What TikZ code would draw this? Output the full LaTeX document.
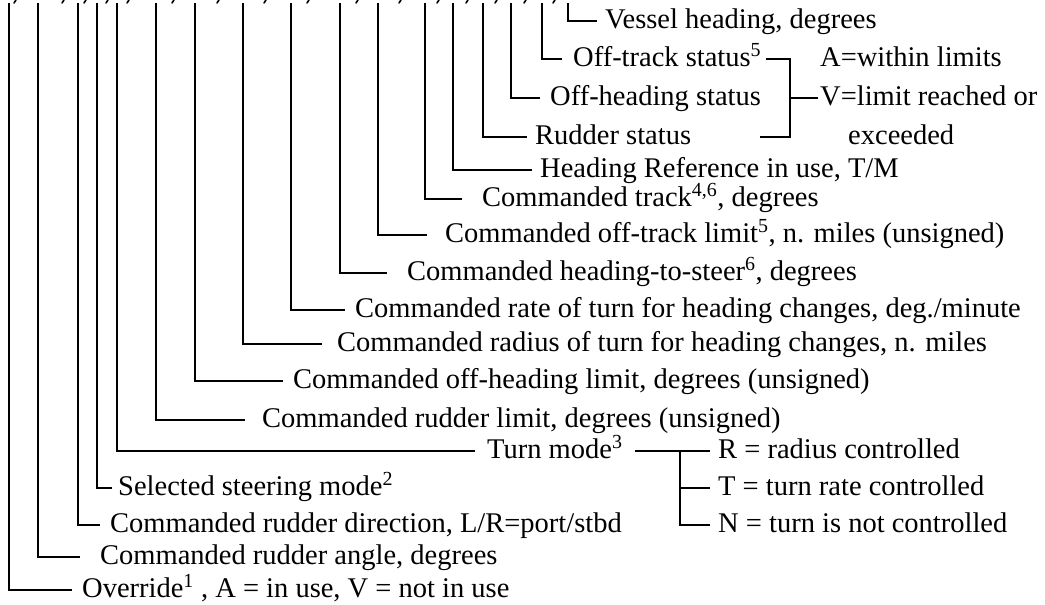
\documentclass[tikz,border=0pt]{standalone}
\usepackage{fontspec}
\setmainfont{Liberation Serif}
\begin{document}
\begin{tikzpicture}[x=1pt,y=-1pt,
  lab/.style={anchor=west, inner sep=0pt, text height=19pt, text depth=5pt,
    font=\fontsize{28.5}{34}\selectfont},
  ln/.style={line width=2.5pt, line join=miter},
  tick/.style={line width=1.6pt, line cap=round}]
\useasboundingbox (0,0) rectangle (1045,605);
% cut-off commas of the sentence above
\foreach \x in {15,63,85,107,128,173,218,265,308,357,400,438,467,496,525,554}
  \draw[tick] (\x+1,0) -- (\x-1,3);
% top ends of the field lines
\foreach \n/\x in {0/568,1/542,2/511,3/483,4/453,5/425,6/378,7/340,8/291,9/243,10/195,11/156,12/117,13/97,14/78,15/38,16/9}
  \coordinate (t\n) at (\x,3);
% labels
\node[lab] (l0)  at (605,21)  {Vessel heading, degrees};
\node[lab] (l1)  at (573,59)  {Off-track status\textsuperscript{5}};
\node[lab] (l2)  at (550,98)  {Off-heading status};
\node[lab] (l3)  at (535,137) {Rudder status};
\node[lab] (l4)  at (540,170) {Heading Reference in use, T/M};
\node[lab] (l5)  at (482,199) {Commanded track\textsuperscript{4,6}, degrees};
\node[lab] (l6)  at (445,235) {Commanded off-track limit\textsuperscript{5}, n. miles (unsigned)};
\node[lab] (l7)  at (407,273) {Commanded heading-to-steer\textsuperscript{6}, degrees};
\node[lab] (l8)  at (355,310) {Commanded rate of turn for heading changes, deg./minute};
\node[lab] (l9)  at (337,344) {Commanded radius of turn for heading changes, n. miles};
\node[lab] (l10) at (293,381) {Commanded off-heading limit, degrees (unsigned)};
\node[lab] (l11) at (262,420) {Commanded rudder limit, degrees (unsigned)};
\node[lab] (l12) at (487,451) {Turn mode\textsuperscript{3}};
\node[lab] (l13) at (118,488) {Selected steering mode\textsuperscript{2}};
\node[lab] (l14) at (110,525) {Commanded rudder direction, L/R=port/stbd};
\node[lab] (l15) at (100,557) {Commanded rudder angle, degrees};
\node[lab] (l16) at (82,590)  {Override\textsuperscript{1} , A = in use, V = not in use};
% field connectors
\foreach \n/\g in {0/8,1/11,2/10,3/8,4/8,5/20,6/18,7/20,8/10,9/15,10/10,11/17,12/12,13/6,14/10,15/20,16/10}
  \draw[ln] (t\n) |- ([xshift=-\g pt]l\n.west);
% status bracket
\node[lab] (la) at (820,59)  {A=within limits};
\node[lab] (lv) at (820,98)  {V=limit reached or};
\node[lab] (le) at (848,137) {exceeded};
\coordinate (bk) at (790,59);
\coordinate (rs) at (760,137);
\draw[ln] ([xshift=5pt]l1.east) -- (bk) -- (bk |- rs) -- (rs);
\draw[ln] (bk |- lv.west) -- ([xshift=-2pt]lv.west);
% turn mode branches
\node[lab] (lr) at (718,451) {R = radius controlled};
\node[lab] (lt) at (718,488) {T = turn rate controlled};
\node[lab] (lnn) at (718,525) {N = turn is not controlled};
\coordinate (br) at (680,451);
\draw[ln] ([xshift=12pt]l12.east) -- ([xshift=-8pt]lr.west);
\draw[ln] (br) |- ([xshift=-8pt]lnn.west);
\draw[ln] (br |- lt.west) -- ([xshift=-8pt]lt.west);
\end{tikzpicture}
\end{document}
